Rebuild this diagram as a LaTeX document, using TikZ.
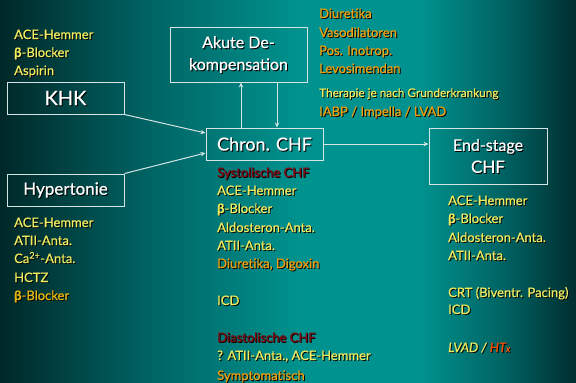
\documentclass[tikz,border=0pt]{standalone}
\usepackage{fontspec}
\setmainfont{Lato}[FakeBold=0.6]
\usetikzlibrary{arrows.meta,calc}
\definecolor{c0}{RGB}{0,40,40}
\definecolor{c1}{RGB}{0,100,100}
\definecolor{c2}{RGB}{0,146,142}
\definecolor{c3}{RGB}{0,46,48}
\definecolor{ytxt}{RGB}{240,236,96}
\definecolor{otxt}{RGB}{238,160,16}
\definecolor{gtxt}{RGB}{232,184,16}
\definecolor{rtxt}{RGB}{130,10,20}
\definecolor{htx}{RGB}{255,80,0}
\definecolor{edge}{RGB}{215,228,228}
\pgfdeclarehorizontalshading{bgshade}{100bp}{color(0bp)=(c0); color(25bp)=(c0); color(38bp)=(c1); color(51bp)=(c2); color(61.5bp)=(c2); color(68.5bp)=(c1); color(75bp)=(c3); color(100bp)=(c3)}
\tikzset{
  txt/.style={anchor=base west, inner sep=0pt, font=\fontsize{13}{15}\selectfont},
  smalltxt/.style={txt, font=\fontsize{11.8}{14}\selectfont},
  boxtxt/.style={inner sep=0pt, align=center, text=white},
  boxframe/.style={draw=edge, line width=1pt, inner sep=0pt, align=center, text=white},
  arr/.style={draw=edge, line width=1pt, -{Stealth[length=5pt,width=4.5pt]}},
}
\newcommand{\mytxt}[6][txt]{%
  \node[#1, text=black] at (#3+0.9,#4+0.9) {#6};
  \node[#1, text=#5] (#2) at (#3,#4) {#6};}
\newcommand{\mybox}[7]{%
  \node[boxtxt, text=black, font=#6] at (#3+1,#4+1) {#7};
  \node[boxframe, font=#6, minimum width=#5, minimum height=#2] (#1) at (#3,#4) {#7};}
\begin{document}
\begin{tikzpicture}[x=1pt,y=-1pt]
\useasboundingbox (0,0) rectangle (576,383);
\shade[shading=bgshade] (0,0) rectangle (576,383);

% boxes
\mybox{akute}{55pt}{238.5}{54.5}{137pt}{\fontsize{16}{22}\selectfont}{Akute De-\\kompensation}
\mybox{khk}{32pt}{65.5}{98}{117pt}{\fontsize{20}{24}\selectfont}{KHK}
\mybox{hyp}{32pt}{65.5}{190}{117pt}{\fontsize{17}{20}\selectfont}{Hypertonie}
\mybox{chron}{32pt}{264.5}{144}{117pt}{\fontsize{18}{22}\selectfont}{Chron. CHF}
\mybox{end}{56pt}{488}{156}{118pt}{\fontsize{16}{22}\selectfont}{End-stage\\{\fontsize{17}{22}\selectfont CHF}}

% connectors
\draw[arr] (khk.south east) -- ([yshift=11pt]chron.west);
\draw[arr] (hyp.north east) -- ([yshift=-9pt]chron.west);
\draw[arr] ($(chron.north)+(-23.5,0)$) -- ($(akute.south)+(2.5,0)$);
\draw[arr] ($(akute.south)+(38.5,0)$) -- ($(chron.north)+(12.5,0)$);
\draw[arr] (chron.east) -- (end.west |- chron.east);

% KHK list
\mytxt{k1}{14}{39}{ytxt}{ACE-Hemmer}
\mytxt{k2}{14}{57}{ytxt}{\textbf{β}-Blocker}
\mytxt{k3}{14}{75}{ytxt}{Aspirin}

% Hypertonie list
\mytxt{h1}{14}{227}{ytxt}{ACE-Hemmer}
\mytxt{h2}{14}{245}{ytxt}{ATII-Anta.}
\mytxt{h3}{14}{263}{ytxt}{Ca\textsuperscript{2+}-Anta.}
\mytxt{h4}{14}{282}{ytxt}{HCTZ}
\mytxt{h5}{14}{300}{gtxt}{\textbf{β}-Blocker}

% acute list
\mytxt{a1}{319}{18}{otxt}{Diuretika}
\mytxt{a2}{319}{37}{otxt}{Vasodilatoren}
\mytxt{a3}{319}{55}{otxt}{Pos. Inotrop.}
\mytxt{a4}{319}{73}{otxt}{Levosimendan}
\mytxt[smalltxt]{a5}{319}{97}{ytxt}{Therapie je nach Grunderkrankung}
\mytxt{a6}{319}{116}{otxt}{IABP / Impella / LVAD}

% chronic list
\mytxt{c1}{217}{177}{rtxt}{Systolische CHF}
\mytxt{c2}{217}{195}{ytxt}{ACE-Hemmer}
\mytxt{c3}{217}{213}{ytxt}{\textbf{β}-Blocker}
\mytxt{c4}{217}{232}{ytxt}{Aldosteron-Anta.}
\mytxt{c5}{217}{250}{ytxt}{ATII-Anta.}
\mytxt{c6}{217}{268}{otxt}{Diuretika, Digoxin}
\mytxt{c7}{217}{305}{ytxt}{ICD}
\mytxt{c8}{217}{342}{rtxt}{Diastolische CHF}
\mytxt{c9}{217}{360}{ytxt}{? ATII-Anta., ACE-Hemmer}
\mytxt{c10}{217}{380}{otxt}{Symptomatisch}

% end-stage list
\mytxt{e1}{448}{205}{ytxt}{ACE-Hemmer}
\mytxt{e2}{448}{223}{ytxt}{\textbf{β}-Blocker}
\mytxt{e3}{448}{242}{ytxt}{Aldosteron-Anta.}
\mytxt{e4}{448}{260}{ytxt}{ATII-Anta.}
\mytxt{e5}{448}{297}{ytxt}{CRT (Biventr. Pacing)}
\mytxt{e6}{448}{314}{ytxt}{ICD}
\node[txt, text=black] at (448.9,352.9) {\itshape LVAD / HT{\fontsize{9}{10}\selectfont x}};
\node[txt, text=ytxt] (e7) at (448,352) {\itshape LVAD / \textcolor{htx}{HT{\fontsize{9}{10}\selectfont x}}};
\end{tikzpicture}
\end{document}
